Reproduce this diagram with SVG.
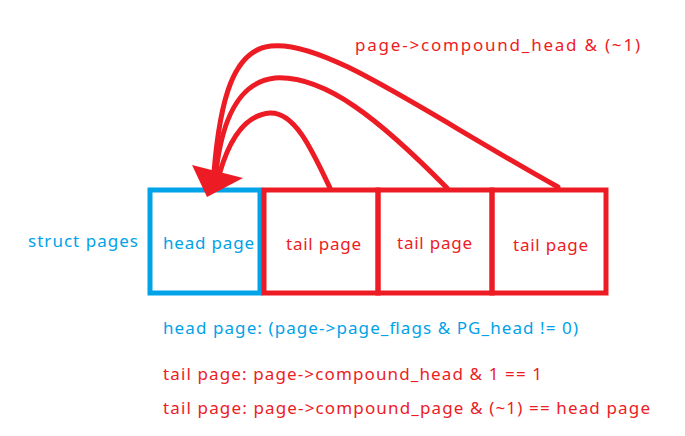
<svg xmlns="http://www.w3.org/2000/svg" width="685" height="436" viewBox="0 0 685 436">
<style>
.b{fill:none;stroke-width:5}
.blue{fill:#00A2E8}
.red{fill:#ED1C24}
text{font-family:"Noto Sans","DejaVu Sans",sans-serif;font-size:17px}
.arc{fill:none;stroke:#ED1C24;stroke-width:5;stroke-linecap:round}
</style>
<rect width="685" height="436" fill="#fff"/>
<text class="red" x="355" y="51" textLength="285" lengthAdjust="spacing">page-&gt;compound_head &amp; (~1)</text>
<g id="label-struct"><text class="blue" x="28" y="247" textLength="110" lengthAdjust="spacing">struct pages</text></g>
<g id="head"><rect class="b" x="150" y="190" width="110" height="103" stroke="#00A2E8"/><text class="blue" x="163" y="249" textLength="91" lengthAdjust="spacing">head page</text></g>
<g id="tail1"><rect class="b" x="264" y="190" width="114" height="103" stroke="#ED1C24"/><text class="red" x="286" y="250" textLength="75" lengthAdjust="spacing">tail page</text></g>
<g id="tail2"><rect class="b" x="378" y="190" width="114" height="103" stroke="#ED1C24"/><text class="red" x="397" y="249" textLength="75" lengthAdjust="spacing">tail page</text></g>
<g id="tail3"><rect class="b" x="492" y="190" width="114" height="103" stroke="#ED1C24"/><text class="red" x="513" y="251" textLength="75" lengthAdjust="spacing">tail page</text></g>
<g id="connectors">
<path class="arc" d="M330,188 C312,150 295,112 270,113 C243,115 228,145 220,172"/>
<path class="arc" d="M447,188 C380,120 325,75 275,78 C238,82 222,120 216,172"/>
<path class="arc" d="M558,187 C420,110 325,40 271,46 C233,50 220,100 214,172"/>
<polygon points="192,165 243,178 207,197" fill="#ED1C24"/>
</g>
<text class="blue" x="163" y="334" textLength="415" lengthAdjust="spacing">head page: (page-&gt;page_flags &amp;  PG_head != 0)</text>
<text class="red" x="163" y="380" textLength="379" lengthAdjust="spacing">tail page: page-&gt;compound_head &amp; 1 == 1</text>
<text class="red" x="163" y="414" textLength="487" lengthAdjust="spacing">tail page: page-&gt;compound_page &amp; (~1) == head page</text>
</svg>
